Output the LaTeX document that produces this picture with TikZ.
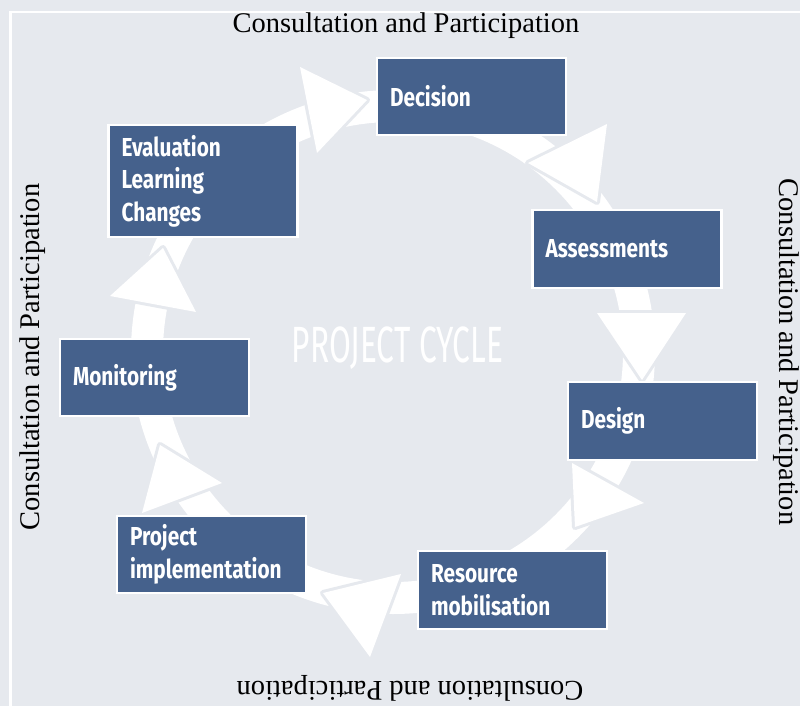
\documentclass[tikz,border=0pt]{standalone}
\usepackage{fontspec}
\setmainfont{Liberation Serif}
\newfontfamily\boxfont[FakeStretch=0.8]{Fira Sans}
\newfontfamily\cyclefont[FakeStretch=0.62]{Fira Sans}
\definecolor{bgc}{RGB}{230,233,238}
\definecolor{boxc}{RGB}{69,97,140}
\begin{document}
\begin{tikzpicture}[x=1pt,y=-1pt,
  stagebox/.style={draw=white, line width=2.5pt, fill=boxc, text=white,
    font=\boxfont\bfseries\fontsize{26}{32.5}\selectfont,
    text width=163pt, align=left, inner xsep=13pt, inner ysep=0pt,
    minimum width=189pt, minimum height=77pt, anchor=center},
  cpfont/.style={font=\fontsize{28.5}{34}\selectfont, text=black, inner sep=0pt, anchor=base},
  headgap/.style={draw=bgc, line width=6pt, line join=round},
  headfill/.style={fill=white},
  band/.style={draw=white, line width=32pt}]
\useasboundingbox (0,0) rectangle (800,706);
\fill[bgc] (0,0) rectangle (800,706);
\draw[white, line width=2.5pt] (10.5,706) -- (10.5,12) -- (800,12);

% ring band of the cycle
\coordinate (cc) at (393,352);
\draw[band] (cc) circle[radius=246pt];

% arrow heads
\foreach \a/\b/\c in {{(300,67)}/{(367,100)}/{(317,153)},
                      {(528,163)}/{(607,124)}/{(597,202)},
                      {(597,313)}/{(686,313)}/{(642,380)},
                      {(572,463)}/{(644,503)}/{(575,527)},
                      {(323,593)}/{(401,574)}/{(370,657)},
                      {(160,445)}/{(222,483)}/{(142,513)},
                      {(163,248)}/{(196,312)}/{(110,296)}}{
  \draw[headgap] \a -- \b -- \c -- cycle;
  \fill[headfill] \a -- \b -- \c -- cycle;
}

% stage boxes
\node[stagebox] (decision) at (471.5,96.5) {Decision};
\node[stagebox, minimum height=112pt] (evaluation) at (203,181) {Evaluation\\Learning\\Changes};
\node[stagebox, minimum height=78pt] (assessments) at (627,249) {Assessments};
\node[stagebox] (monitoring) at (154.5,377.5) {Monitoring};
\node[stagebox, minimum height=78pt] (design) at (662.5,421) {Design};
\node[stagebox] (project) at (211.5,554.5) {Project\\implementation};
\node[stagebox, minimum height=78pt] (resource) at (512.5,590) {Resource\\mobilisation};

% title
\node[font=\cyclefont\fontsize{51}{60}\selectfont, text=white, inner sep=0pt, anchor=base] (title) at (397.5,362) {PROJECT CYCLE};

% surrounding labels
\node[cpfont] (ctop) at (406,33) {Consultation and Participation};
\node[cpfont, rotate=90] (cleft) at (39,357) {Consultation and Participation};
\node[cpfont, rotate=-90] (cright) at (779,352) {Consultation and Participation};
\node[cpfont, rotate=180] (cbot) at (410,681) {Consultation and Participation};
\end{tikzpicture}
\end{document}
